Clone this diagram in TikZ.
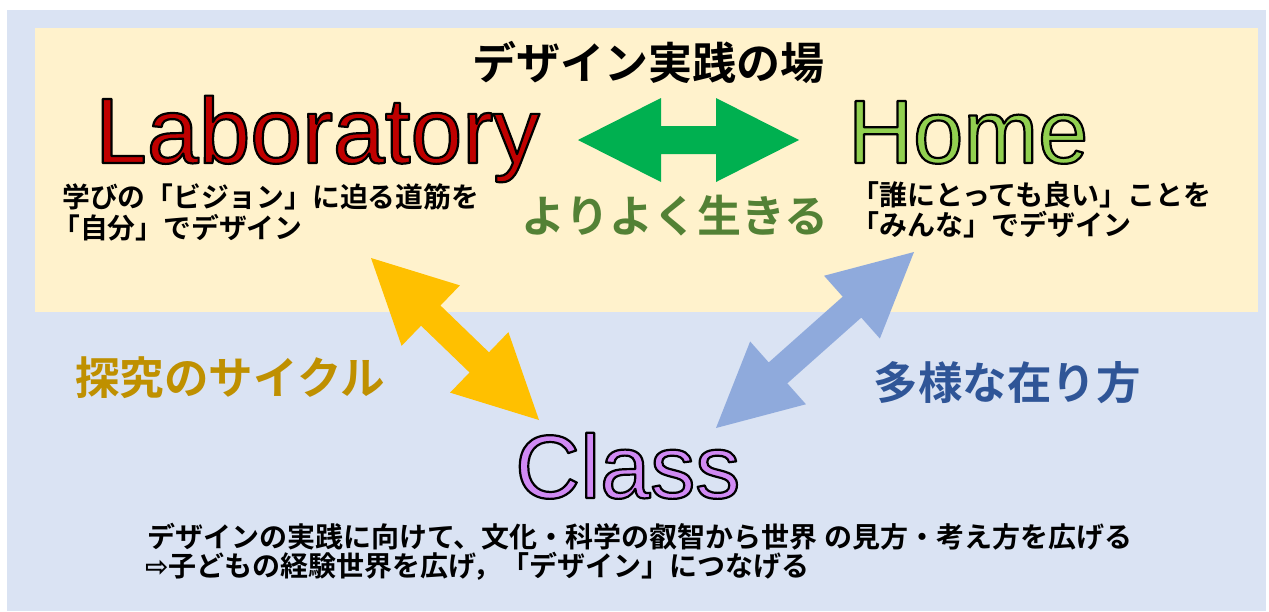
\documentclass[tikz,border=0pt]{standalone}
\usepackage{fontspec}
\usetikzlibrary{calc}
\newfontfamily\jp{Noto Sans CJK JP}[BoldFont={* Bold}]
\newfontfamily\lat{Liberation Sans}
\newfontfamily\dvs{DejaVu Sans}
\definecolor{bgblue}{HTML}{DAE3F3}
\definecolor{bgyellow}{HTML}{FFF2CC}
\definecolor{labred}{HTML}{C00000}
\definecolor{homegreen}{HTML}{92D050}
\definecolor{classviolet}{HTML}{D08AF3}
\definecolor{arrgreen}{HTML}{00B050}
\definecolor{arryellow}{HTML}{FFC000}
\definecolor{arrblue}{HTML}{8FAADC}
\definecolor{lifegreen}{HTML}{538135}
\definecolor{cyclegold}{HTML}{BF9000}
\definecolor{waysblue}{HTML}{2F5597}
\newcommand\outlinedword[1]{\special{pdf:literal 0 0 0 RG 2.2 w 1 j 2 Tr}#1\special{pdf:literal 0 Tr}}
\newcommand\dblarrow[4]{%
  \coordinate (#1-ha) at ($(#3)!83pt!(#4)$);
  \coordinate (#1-hb) at ($(#4)!83pt!(#3)$);
  \fill[#2] (#3) -- ($(#1-ha)!42pt!90:(#4)$) -- ($(#1-ha)!14pt!90:(#4)$)
    -- ($(#1-hb)!14pt!-90:(#3)$) -- ($(#1-hb)!42pt!-90:(#3)$) -- (#4)
    -- ($(#1-hb)!42pt!90:(#3)$) -- ($(#1-hb)!14pt!90:(#3)$)
    -- ($(#1-ha)!14pt!-90:(#4)$) -- ($(#1-ha)!42pt!-90:(#4)$) -- cycle;}
\tikzset{
  jptext/.style={inner sep=0pt, font=\jp\bfseries\fontsize{#1}{#1}\selectfont},
  bigword/.style={inner sep=0pt, anchor=base west, font=\lat\fontsize{#1}{#1}\selectfont},
}
\begin{document}
\begin{tikzpicture}[x=1pt,y=-1pt]
\useasboundingbox (0,0) rectangle (1269,611);
\fill[white] (0,0) rectangle (1269,611);
\fill[bgblue] (7,10) rectangle (1266,611);
\fill[bgyellow] (35,28) rectangle (1258,312);
% arrow end points
\coordinate (gA) at (578,140);
\coordinate (gB) at (799,140);
\coordinate (yA) at (371,258);
\coordinate (yB) at (539,420);
\coordinate (bA) at (914,252);
\coordinate (bB) at (716,428);
\dblarrow{ga}{arrgreen}{gA}{gB}
\dblarrow{ya}{arryellow}{yA}{yB}
\dblarrow{ba}{arrblue}{bA}{bB}
% texts
\node[jptext=44] (title) at (648,62) {デザイン実践の場};
\node[bigword=93, text=labred] (lab) at (95,163) {\outlinedword{Laboratory}};
\node[bigword=90, text=homegreen] (home) at (848,163) {\outlinedword{Home}};
\node[bigword=90, text=classviolet] (class) at (515,498) {\outlinedword{Class}};
\node[jptext=27.8, anchor=west] (lab1) at (62,197) {学びの「ビジョン」に迫る道筋を};
\node[jptext=27.8, anchor=west] (lab2) at (52,228) {「自分」でデザイン};
\node[jptext=28, anchor=west] (home1) at (851,195) {「誰にとっても良い」ことを};
\node[jptext=28, anchor=west] (home2) at (851,225) {「みんな」でデザイン};
\node[jptext=44, text=lifegreen] (life) at (675,216) {よりよく生きる};
\node[jptext=44.5, text=cyclegold] (cycle) at (230,378) {探究のサイクル};
\node[jptext=44.5, text=waysblue] (ways) at (1007,383) {多様な在り方};
\node[jptext=28, anchor=west] (bot1) at (147,537) {デザインの実践に向けて、文化・科学の叡智から世界 の見方・考え方を広げる};
\node[jptext=28, anchor=west] (bot2) at (145,566) {{\dvs ⇨}子どもの経験世界を広げ，「デザイン」につなげる};
\end{tikzpicture}
\end{document}
